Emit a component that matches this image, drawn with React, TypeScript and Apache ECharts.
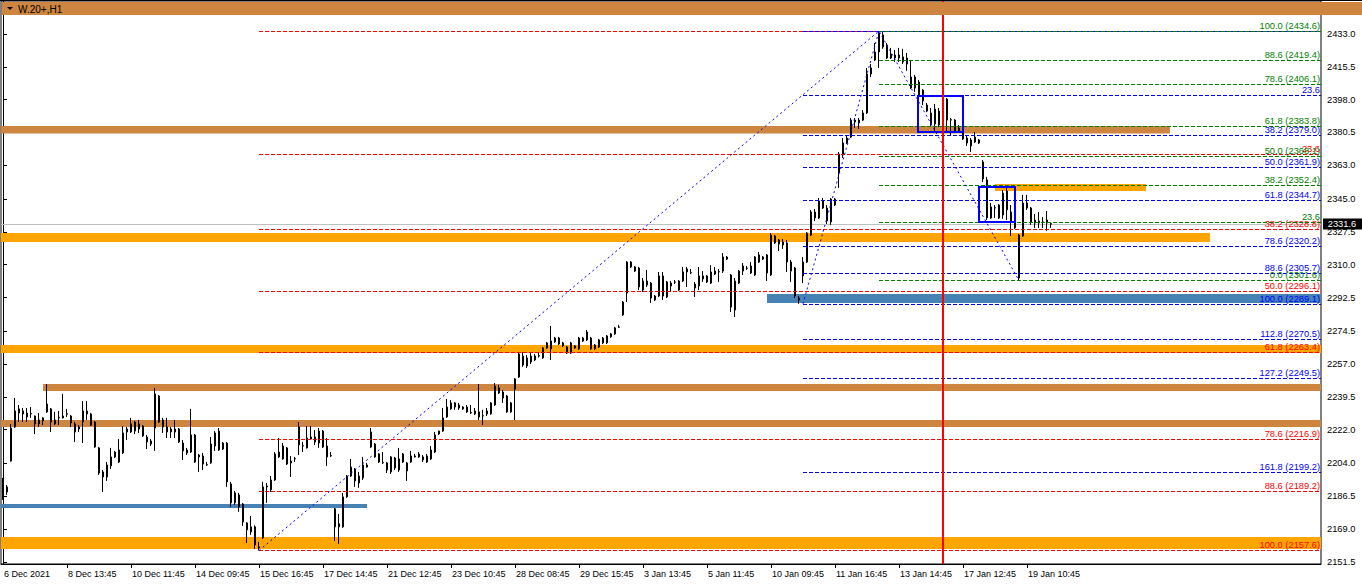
import React, { useEffect, useRef } from "react";
import * as echarts from "echarts";

// ---------- DATA ----------
const X_LABELS = [
  "6 Dec 2021", "8 Dec 13:45", "10 Dec 11:45", "14 Dec 09:45", "15 Dec 16:45",
  "17 Dec 14:45", "21 Dec 12:45", "23 Dec 10:45", "28 Dec 08:45", "29 Dec 15:45",
  "3 Jan 13:45", "5 Jan 11:45", "10 Jan 09:45", "11 Jan 16:45", "13 Jan 14:45",
  "17 Jan 12:45", "19 Jan 10:45",
];
const LABEL_STEP = 16;
const SLOT_COUNT = 330;

const Y_TICKS = [
  2151.5, 2169.0, 2186.5, 2204.0, 2222.0, 2239.5, 2257.0, 2274.5, 2292.5,
  2310.0, 2327.5, 2345.0, 2363.0, 2380.5, 2398.0, 2415.5, 2433.0,
];
const Y_MIN = 2150.4;
const Y_MAX = 2450.6;

// [open, close, low, high]
const CANDLES: number[][] = [
  [2188.8,2190.4,2184.6,2196.3],[2191.5,2188.8,2187.2,2192.5],[2205.3,2222.9,2205.0,2225.1],[2223.5,2232.0,2223.0,2238.9],
  [2233.1,2230.9,2226.1,2235.2],[2232.0,2230.4,2226.1,2233.6],[2230.9,2228.8,2226.1,2233.6],[2230.4,2230.6,2228.3,2234.1],
  [2229.3,2225.1,2219.7,2229.6],[2225.1,2227.2,2223.5,2230.9],[2228.3,2226.7,2224.5,2228.8],[2235.7,2231.5,2231.0,2246.4],
  [2233.1,2226.1,2220.8,2233.6],[2225.1,2227.2,2224.5,2231.5],[2228.3,2228.6,2224.5,2232.0],[2228.3,2229.3,2228.0,2241.1],
  [2230.2,2230.6,2228.8,2233.1],[2229.3,2225.6,2223.5,2229.8],[2225.1,2220.8,2215.5,2226.1],[2223.5,2222.4,2220.8,2224.5],
  [2226.1,2232.0,2214.9,2237.3],[2232.0,2230.4,2227.2,2237.3],[2230.4,2224.5,2224.0,2231.0],[2226.1,2212.8,2212.3,2226.5],
  [2212.3,2198.9,2197.9,2212.8],[2199.5,2196.8,2188.8,2200.5],[2196.8,2203.2,2194.7,2204.8],[2202.7,2207.5,2201.1,2212.3],
  [2207.5,2210.1,2206.9,2210.7],[2204.8,2211.2,2204.3,2217.1],[2209.6,2220.3,2209.1,2224.0],[2220.8,2222.4,2216.5,2223.5],
  [2220.8,2225.1,2220.3,2228.3],[2226.1,2221.3,2219.7,2226.6],[2222.4,2225.1,2220.3,2227.2],[2224.0,2218.7,2218.2,2224.5],
  [2218.1,2215.5,2211.7,2219.2],[2214.4,2216.0,2213.3,2217.1],[2222.9,2241.1,2210.7,2244.3],[2240.0,2226.1,2225.6,2240.5],
  [2227.2,2223.5,2220.3,2228.3],[2223.5,2220.8,2217.6,2228.3],[2220.8,2222.4,2217.6,2223.5],[2220.8,2222.4,2217.6,2227.2],
  [2222.4,2215.5,2214.9,2222.9],[2214.9,2210.7,2205.9,2216.5],[2211.2,2209.6,2208.5,2212.3],[2210.1,2219.2,2209.6,2233.1],
  [2219.2,2204.8,2204.3,2219.7],[2208.5,2207.5,2199.5,2209.1],[2208.0,2203.7,2200.5,2209.6],[2203.2,2203.4,2202.7,2204.8],
  [2204.3,2214.4,2203.8,2218.1],[2213.3,2220.3,2210.7,2221.3],[2221.3,2211.2,2210.7,2222.9],[2214.9,2211.7,2211.2,2215.5],
  [2214.9,2194.2,2191.5,2215.5],[2193.1,2183.0,2180.8,2194.2],[2183.0,2188.3,2181.9,2189.4],[2187.2,2180.8,2178.2,2188.3],
  [2182.4,2172.8,2170.7,2182.9],[2172.3,2168.6,2161.6,2172.8],[2167.5,2170.2,2165.9,2176.0],[2170.2,2160.6,2158.4,2171.0],
  [2159.5,2159.0,2157.6,2162.2],[2164.3,2191.5,2163.8,2194.2],[2192.0,2191.5,2183.0,2193.6],[2189.9,2195.2,2188.8,2197.3],
  [2195.2,2209.1,2194.7,2210.1],[2210.1,2207.5,2207.0,2217.6],[2206.4,2213.3,2206.0,2214.9],[2212.3,2203.7,2203.2,2212.8],
  [2204.3,2205.3,2196.8,2208.0],[2206.4,2206.6,2204.8,2207.5],[2223.5,2213.9,2208.5,2226.1],[2213.3,2213.5,2210.1,2215.5],
  [2212.3,2217.6,2212.0,2224.0],[2217.1,2218.1,2216.8,2224.0],[2218.1,2215.5,2213.9,2221.8],[2214.9,2221.3,2212.3,2222.9],
  [2221.3,2212.8,2212.3,2221.8],[2213.3,2207.5,2202.7,2217.6],[2208.0,2208.2,2207.5,2210.1],[2179.8,2170.2,2162.7,2180.3],
  [2171.8,2170.2,2161.1,2177.1],[2170.2,2186.2,2169.7,2188.3],[2186.2,2197.3,2185.7,2197.9],[2197.3,2202.1,2196.8,2206.4],
  [2201.1,2194.7,2191.5,2201.6],[2193.6,2197.3,2191.0,2199.5],[2196.3,2203.2,2195.2,2207.5],[2202.1,2203.2,2201.8,2204.3],
  [2220.8,2212.8,2212.3,2222.9],[2214.4,2207.5,2207.0,2214.9],[2209.1,2204.8,2204.3,2209.6],[2204.3,2204.5,2203.8,2210.1],
  [2204.3,2200.5,2198.9,2204.8],[2199.5,2207.5,2198.4,2207.9],[2206.9,2201.6,2200.5,2207.5],[2200.5,2206.4,2199.5,2212.3],
  [2204.8,2209.1,2204.3,2209.6],[2200.0,2204.3,2194.7,2204.8],[2204.8,2208.0,2204.3,2210.7],[2208.0,2207.5,2207.2,2209.1],
  [2209.1,2207.5,2207.0,2210.1],[2207.5,2205.9,2204.8,2208.5],[2208.0,2204.8,2204.3,2209.1],[2206.4,2211.2,2205.9,2213.3],
  [2210.1,2219.2,2209.6,2220.8],[2219.7,2221.3,2219.2,2221.5],[2221.3,2228.3,2220.8,2233.6],[2228.8,2234.1,2228.3,2238.4],
  [2233.1,2236.3,2232.6,2237.8],[2234.1,2236.3,2232.6,2236.8],[2235.2,2233.6,2232.6,2236.3],[2234.1,2233.1,2232.6,2234.6],
  [2234.1,2231.5,2230.9,2235.2],[2230.9,2231.2,2230.4,2235.2],[2230.4,2232.0,2229.8,2233.6],[2231.5,2228.8,2227.2,2246.4],
  [2229.3,2229.5,2224.5,2232.6],[2230.4,2232.0,2229.3,2233.6],[2230.4,2236.3,2230.0,2236.8],[2235.2,2245.3,2234.8,2246.9],
  [2244.3,2241.6,2241.1,2245.9],[2242.1,2238.9,2236.3,2243.2],[2240.0,2231.5,2231.0,2240.5],[2231.5,2236.3,2231.0,2236.8],
  [2243.7,2249.1,2227.2,2249.6],[2250.1,2262.4,2249.6,2262.9],[2261.3,2256.5,2255.5,2263.4],[2260.3,2256.0,2254.9,2261.8],
  [2258.1,2261.3,2257.0,2263.0],[2259.2,2261.3,2258.6,2262.4],[2261.3,2261.5,2260.5,2263.0],[2260.3,2265.6,2259.8,2266.1],
  [2268.3,2265.6,2265.1,2268.8],[2265.1,2269.3,2259.2,2277.3],[2268.8,2270.9,2268.3,2271.5],[2270.9,2267.7,2267.2,2271.5],
  [2268.3,2266.7,2266.1,2268.8],[2266.1,2262.9,2262.4,2266.7],[2262.9,2268.3,2262.4,2268.8],[2266.7,2265.6,2265.1,2267.2],
  [2265.1,2270.9,2264.6,2271.5],[2269.3,2270.9,2268.8,2271.5],[2274.1,2269.9,2269.3,2275.2],[2270.9,2265.1,2264.6,2271.5],
  [2265.1,2267.2,2264.6,2267.7],[2266.1,2269.9,2265.6,2270.4],[2270.9,2268.3,2267.7,2271.5],[2268.3,2272.0,2267.7,2272.5],
  [2271.5,2273.1,2271.0,2273.6],[2273.1,2276.3,2272.5,2276.8],[2276.6,2276.8,2276.3,2277.9],[2283.2,2290.1,2282.7,2290.6],
  [2294.9,2311.4,2290.1,2311.9],[2311.4,2308.8,2308.2,2311.9],[2308.8,2306.6,2306.1,2309.3],[2308.2,2298.1,2296.5,2308.8],
  [2296.5,2301.3,2295.4,2302.9],[2301.3,2299.2,2298.1,2307.2],[2300.2,2292.2,2289.6,2300.8],[2291.2,2293.3,2290.7,2293.8],
  [2293.3,2304.0,2292.8,2306.1],[2304.0,2293.3,2291.2,2306.1],[2292.8,2300.8,2292.2,2301.3],[2300.2,2298.6,2295.4,2301.3],
  [2300.6,2300.8,2299.7,2301.8],[2296.5,2301.3,2296.0,2301.8],[2301.3,2306.1,2300.8,2308.8],[2307.7,2306.1,2298.1,2308.8],
  [2305.6,2305.8,2305.0,2307.7],[2299.7,2297.6,2292.8,2300.8],[2298.6,2304.0,2296.5,2308.8],[2304.0,2302.4,2300.8,2306.6],
  [2304.0,2300.8,2300.2,2304.5],[2300.2,2306.1,2299.7,2309.8],[2306.6,2305.0,2304.5,2308.8],[2306.1,2306.3,2300.8,2307.7],
  [2306.6,2314.1,2305.6,2316.2],[2313.0,2314.1,2312.5,2314.6],[2304.5,2287.4,2284.8,2305.0],[2285.8,2301.3,2282.1,2302.9],
  [2300.2,2306.6,2299.7,2307.2],[2306.6,2309.3,2304.5,2310.9],[2308.0,2308.2,2307.2,2309.3],[2305.6,2309.3,2305.0,2311.4],
  [2304.5,2314.1,2304.0,2314.6],[2315.2,2311.4,2310.9,2316.8],[2313.0,2314.1,2312.5,2314.6],[2315.2,2305.6,2301.3,2315.7],
  [2304.5,2325.8,2304.0,2326.9],[2325.3,2321.6,2321.0,2325.8],[2323.2,2321.0,2317.3,2323.7],[2322.1,2320.5,2318.4,2323.7],
  [2321.6,2311.4,2306.1,2323.2],[2311.4,2306.6,2300.8,2312.5],[2308.2,2293.3,2292.2,2308.8],[2292.2,2291.2,2289.1,2293.3],
  [2304.0,2311.4,2300.2,2314.1],[2311.4,2326.9,2310.9,2327.4],[2325.8,2338.1,2325.3,2339.2],[2338.1,2334.9,2333.3,2339.7],
  [2334.9,2344.0,2334.4,2345.6],[2344.0,2340.2,2339.7,2345.6],[2340.2,2333.3,2331.7,2341.8],[2332.8,2345.0,2331.2,2345.5],
  [2341.8,2345.0,2341.3,2345.5],[2359.4,2369.0,2350.9,2370.1],[2368.5,2374.9,2366.9,2377.5],[2374.9,2377.5,2374.4,2379.1],
  [2378.1,2387.1,2377.6,2388.2],[2387.1,2386.1,2382.9,2388.2],[2385.6,2387.1,2382.4,2388.2],[2387.1,2390.9,2386.6,2392.4],
  [2390.9,2411.7,2390.4,2414.9],[2414.9,2411.7,2410.1,2417.0],[2419.1,2423.4,2418.6,2428.2],[2423.4,2433.5,2414.9,2434.6],
  [2432.5,2426.1,2425.1,2434.0],[2427.1,2420.2,2419.7,2428.2],[2420.2,2422.3,2419.7,2425.6],[2421.8,2420.2,2418.1,2424.5],
  [2420.2,2421.8,2418.1,2425.6],[2420.8,2418.1,2417.0,2425.1],[2420.2,2417.0,2413.3,2422.9],[2404.2,2410.1,2403.7,2418.6],
  [2410.1,2404.2,2402.1,2411.2],[2407.4,2399.9,2399.4,2408.5],[2403.1,2397.3,2395.1,2403.6],[2395.1,2391.9,2391.4,2396.2],
  [2390.9,2384.5,2383.4,2393.5],[2385.0,2393.0,2381.3,2395.7],[2391.9,2384.5,2383.4,2393.5],[2385.0,2391.4,2384.0,2393.0],
  [2398.3,2387.1,2380.7,2398.8],[2387.1,2387.3,2378.6,2388.2],[2387.1,2381.3,2380.2,2387.6],[2382.9,2381.3,2380.7,2384.5],
  [2380.2,2377.0,2376.5,2381.3],[2377.5,2374.9,2373.3,2378.6],[2373.3,2376.5,2370.1,2377.5],[2375.4,2378.1,2374.9,2380.7],
  [2376.5,2374.9,2374.4,2377.0],[2364.8,2355.7,2354.1,2365.8],[2355.2,2334.9,2333.8,2356.8],[2334.9,2340.8,2334.4,2342.9],
  [2340.2,2340.4,2334.9,2341.8],[2334.9,2341.8,2334.4,2342.3],[2348.2,2336.5,2334.4,2349.8],[2339.2,2349.3,2333.8,2350.9],
  [2338.1,2332.8,2325.3,2341.8],[2332.8,2329.6,2329.1,2333.3],[2302.9,2325.8,2301.6,2326.4],[2325.3,2342.9,2324.8,2347.2],
  [2342.9,2340.2,2339.2,2347.2],[2340.2,2332.8,2331.2,2340.8],[2333.8,2332.2,2329.6,2337.0],[2333.3,2332.2,2329.6,2338.1],
  [2332.8,2332.6,2329.6,2335.4],[2333.8,2332.2,2328.0,2338.6],[2331.8,2331.6,2329.6,2332.8],
];

const LAST_PRICE = 2331.6;

// horizontal zones: [fromBar, toBar, lowPrice, highPrice, kind]  kind: 0 peru, 1 orange, 2 steelblue
const ZONES: number[][] = [
  [-0.5, 291.75, 2380.0, 2384.0, 0],
  [-0.5, 301.75, 2322.1, 2326.9, 1],
  [248, 285.75, 2349.3, 2353.0, 1],
  [191, 329.5, 2289.6, 2294.4, 2],
  [-0.5, 329.5, 2262.9, 2267.2, 1],
  [10, 329.5, 2242.7, 2246.4, 0],
  [-0.5, 329.5, 2223.5, 2227.2, 0],
  [-0.5, 91, 2180.3, 2182.4, 2],
  [-0.5, 329.5, 2158.4, 2164.8, 1],
];

// fibonacci levels: [level, price, labelMode]  (2 = level + price, 1 = level only, 0 = none)
const FIB_GREEN: number[][] = [
  [100.0, 2434.6, 2], [88.6, 2419.4, 2], [78.6, 2406.1, 2], [61.8, 2383.8, 2],
  [50.0, 2368.1, 2], [38.2, 2352.4, 2], [23.6, 2333.0, 1], [0.0, 2301.6, 2],
];
const FIB_BLUE: number[][] = [
  [0.0, 2434.6, 0], [23.6, 2400.3, 1], [38.2, 2379.0, 2], [50.0, 2361.9, 2],
  [61.8, 2344.7, 2], [78.6, 2320.2, 2], [88.6, 2305.7, 2], [100.0, 2289.1, 2],
  [112.8, 2270.5, 2], [127.2, 2249.5, 2], [161.8, 2199.2, 2],
];
const FIB_RED: number[][] = [
  [0.0, 2434.6, 0], [23.6, 2369.2, 1], [38.2, 2328.8, 2], [50.0, 2296.1, 2],
  [61.8, 2263.4, 2], [78.6, 2216.9, 2], [88.6, 2189.2, 2], [100.0, 2157.6, 2],
];
const FIB_GREEN_START = 219;
const FIB_BLUE_START = 200;
const FIB_RED_START = 64;

// zig-zag swing lines [bar, price]
const SWING_MAIN: number[][] = [[64, 2157.6], [219, 2434.6], [254, 2301.6]];
const SWING_SUB: number[][] = [[200, 2289.1], [219, 2434.6]];

// boxes: [fromBar, toBar, lowPrice, highPrice]
const BOXES: number[][] = [
  [228.75, 240, 2380.7, 2399.9],
  [244, 253, 2332.8, 2351.4],
];

const VLINE_BAR = 235;

// ---------- STYLE ----------
const FONT = "'Liberation Sans', Arial, sans-serif";
const ZONE_COLORS = ["#CD853F", "#FFA500", "#4682B4"];
const X_END = SLOT_COUNT - 0.5;

function fibSeries(levels: number[][], start: number, color: string, z: number) {
  return {
    type: "custom",
    xAxisIndex: 1,
    yAxisIndex: 0,
    z,
    silent: true,
    encode: { x: 0, y: 1 },
    data: levels.map((l) => [start, l[1], l[0], l[2]]),
    renderItem: (params: any, api: any) => {
      const price = api.value(1);
      const level = api.value(2);
      const mode = api.value(3);
      const s = api.coord([api.value(0), price]);
      const e = api.coord([X_END, price]);
      const y = Math.round(s[1]) + 0.5;
      const children: any[] = [
        {
          type: "line",
          shape: { x1: s[0], y1: y, x2: e[0], y2: y },
          style: { stroke: color, lineWidth: 1, lineDash: [4, 2], opacity: 1 },
        },
      ];
      if (mode > 0) {
        const text = mode === 2 ? `${level.toFixed(1)} (${price.toFixed(1)})` : level.toFixed(1);
        children.push({
          type: "text",
          x: e[0] - 1,
          y: y - 1,
          style: {
            text,
            fill: color,
            fontSize: 9.3,
            fontFamily: FONT,
            align: "right",
            verticalAlign: "bottom",
          },
        });
      }
      return { type: "group", children };
    },
  };
}

function buildOption() {
  const categories = Array.from({ length: SLOT_COUNT }, (_, i) => String(i));
  const labelShown = (i: number) => i % LABEL_STEP === 0 && i / LABEL_STEP < X_LABELS.length;

  return {
    animation: false,
    backgroundColor: "#ffffff",
    grid: {
      left: 1,
      right: 41,
      top: 1,
      bottom: 21,
      containLabel: false,
      outerBoundsMode: "none",
      show: true,
      borderColor: "#000",
      borderWidth: 1,
      backgroundColor: "#fff",
    },
    xAxis: [
      {
        type: "category",
        data: categories,
        boundaryGap: true,
        axisLine: { show: true, lineStyle: { color: "#000", width: 1 } },
        axisTick: {
          show: true,
          alignWithLabel: true,
          length: 4,
          interval: (i: number) => i > 0 && labelShown(i),
          lineStyle: { color: "#000" },
        },
        axisLabel: {
          interval: (i: number) => labelShown(i),
          formatter: (_v: string, i: number) => X_LABELS[i / LABEL_STEP] ?? "",
          align: "left",
          color: "#000",
          fontSize: 9,
          fontFamily: FONT,
          margin: 5,
          padding: [0, 0, 0, 1],
        },
        splitLine: { show: false },
      },
      {
        type: "value",
        min: -0.5,
        max: X_END,
        show: false,
        splitLine: { show: false },
      },
    ],
    yAxis: [
      {
        type: "value",
        position: "right",
        min: Y_MIN,
        max: Y_MAX,
        scale: true,
        splitLine: { show: false },
        axisLine: { show: true, lineStyle: { color: "#000" } },
        axisTick: { show: true, length: 4, customValues: Y_TICKS, lineStyle: { color: "#000" } },
        axisLabel: {
          customValues: Y_TICKS,
          formatter: (v: number) => v.toFixed(1),
          color: "#000",
          fontSize: 9.3,
          fontFamily: FONT,
          margin: 6,
        },
      },
    ],
    graphic: [
      {
        type: "rect",
        shape: { x: 2, y: 2, width: 1360, height: 13 },
        style: { fill: "#CD853F" },
        z: 100,
      },
      {
        type: "polygon",
        shape: { points: [[7, 7], [13, 7], [10, 10]] },
        style: { fill: "#000" },
        z: 101,
      },
      {
        type: "text",
        x: 18,
        y: 9,
        style: { text: "W.20+,H1", fill: "#000", fontSize: 10, fontFamily: FONT, verticalAlign: "middle" },
        z: 101,
      },
      {
        type: "line",
        shape: { x1: 0, y1: 0.5, x2: 1362, y2: 0.5 },
        style: { stroke: "#000", lineWidth: 1 },
        z: 101,
      },
    ],
    series: [
      {
        type: "custom",
        name: "zones",
        xAxisIndex: 1,
        yAxisIndex: 0,
        z: 1,
        silent: true,
        encode: { x: [0, 1], y: [2, 3] },
        data: ZONES,
        renderItem: (params: any, api: any) => {
          const a = api.coord([api.value(0), api.value(3)]);
          const b = api.coord([api.value(1), api.value(2)]);
          return {
            type: "rect",
            shape: { x: a[0], y: a[1], width: b[0] - a[0], height: b[1] - a[1] },
            style: { fill: ZONE_COLORS[api.value(4)] },
          };
        },
      },
      {
        type: "custom",
        name: "lastLine",
        xAxisIndex: 1,
        yAxisIndex: 0,
        z: 1,
        silent: true,
        encode: { y: 0 },
        data: [[LAST_PRICE]],
        renderItem: (params: any, api: any) => {
          const a = api.coord([-0.5, api.value(0)]);
          const b = api.coord([X_END, api.value(0)]);
          const y = Math.round(a[1]) + 0.5;
          return {
            type: "line",
            shape: { x1: a[0], y1: y, x2: b[0], y2: y },
            style: { stroke: "#C0C0C0", lineWidth: 1 },
          };
        },
      },
      {
        type: "candlestick",
        xAxisIndex: 0,
        yAxisIndex: 0,
        z: 2,
        barWidth: 2,
        data: CANDLES,
        itemStyle: {
          color: "#ffffff",
          color0: "#000000",
          borderColor: "#000000",
          borderColor0: "#000000",
          borderWidth: 1,
        },
      },
      fibSeries(FIB_RED, FIB_RED_START, "#FF0000", 3),
      fibSeries(FIB_BLUE, FIB_BLUE_START, "#0000FF", 3),
      fibSeries(FIB_GREEN, FIB_GREEN_START, "#008000", 3),
      {
        type: "line",
        xAxisIndex: 1,
        yAxisIndex: 0,
        z: 4,
        data: SWING_MAIN,
        symbol: "none",
        silent: true,
        lineStyle: { color: "#0000FF", width: 1, type: [2, 3] },
      },
      {
        type: "line",
        xAxisIndex: 1,
        yAxisIndex: 0,
        z: 4,
        data: SWING_SUB,
        symbol: "none",
        silent: true,
        lineStyle: { color: "#0000FF", width: 1, type: [2, 3] },
      },
      {
        type: "custom",
        name: "boxes",
        xAxisIndex: 1,
        yAxisIndex: 0,
        z: 5,
        silent: true,
        encode: { x: [0, 1], y: [2, 3] },
        data: BOXES,
        renderItem: (params: any, api: any) => {
          const a = api.coord([api.value(0), api.value(3)]);
          const b = api.coord([api.value(1), api.value(2)]);
          return {
            type: "rect",
            shape: { x: a[0], y: a[1], width: b[0] - a[0], height: b[1] - a[1] },
            style: { fill: "none", stroke: "#0000FF", lineWidth: 2 },
          };
        },
      },
      {
        type: "custom",
        name: "vline",
        xAxisIndex: 1,
        yAxisIndex: 0,
        z: 5,
        silent: true,
        encode: { x: 0 },
        data: [[VLINE_BAR]],
        renderItem: (params: any, api: any) => {
          const a = api.coord([api.value(0), Y_MAX]);
          const b = api.coord([api.value(0), Y_MIN]);
          return {
            type: "line",
            shape: { x1: a[0], y1: a[1], x2: b[0], y2: b[1] },
            style: { stroke: "#FF0000", lineWidth: 2 },
          };
        },
      },
      {
        type: "custom",
        name: "lastTag",
        xAxisIndex: 1,
        yAxisIndex: 0,
        z: 20,
        silent: true,
        encode: { y: 0 },
        data: [[LAST_PRICE]],
        renderItem: (params: any, api: any) => {
          const b = api.coord([X_END, api.value(0)]);
          const y = Math.round(b[1]);
          return {
            type: "group",
            children: [
              {
                type: "rect",
                shape: { x: b[0] + 2, y: y - 5.5, width: 40, height: 11 },
                style: { fill: "#000" },
              },
              {
                type: "text",
                x: b[0] + 21,
                y: y,
                style: {
                  text: api.value(0).toFixed(1),
                  fill: "#fff",
                  fontSize: 9.3,
                  fontFamily: FONT,
                  align: "center",
                  verticalAlign: "middle",
                },
              },
            ],
          };
        },
      },
    ],
  };
}

export default function App() {
  const ref = useRef<HTMLDivElement>(null);
  useEffect(() => {
    document.body.style.margin = "0";
    const chart = echarts.init(ref.current!, null, { renderer: "svg" });
    chart.setOption(buildOption() as any);
    return () => chart.dispose();
  }, []);
  return <div ref={ref} style={{ width: 1362, height: 585, background: "#fff" }} />;
}
